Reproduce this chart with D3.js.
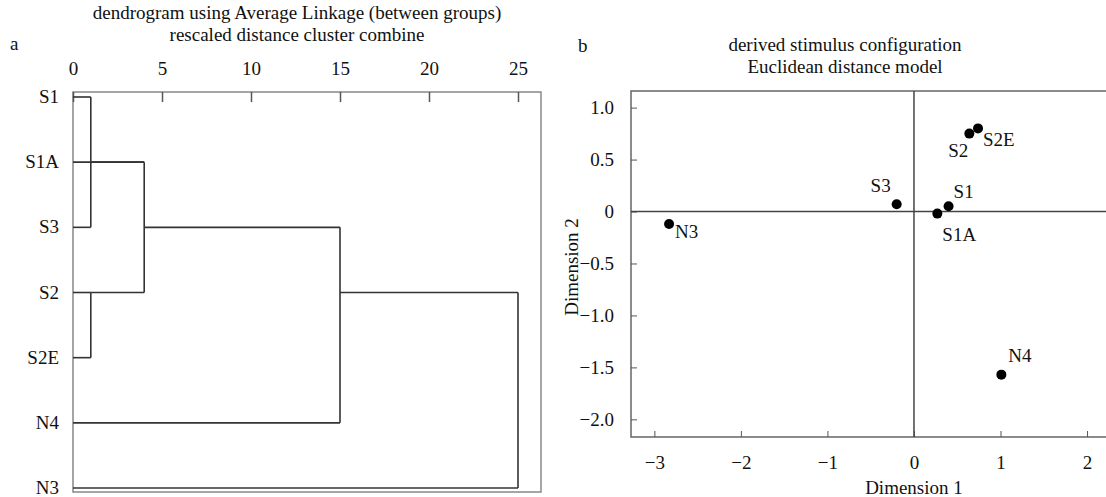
<!DOCTYPE html>
<html>
<head>
<meta charset="utf-8">
<script src="https://cdn.jsdelivr.net/npm/d3@7"></script>
<style>
  body { margin: 0; background: #fff; }
  svg text { font-family: "Liberation Serif", "Times New Roman", serif; fill: #111; }
  .axis path, .axis line { stroke: #555; }
</style>
</head>
<body>
<div id="chart"></div>
<script>
// ---- panel a : dendrogram (rows top to bottom) ----
const leafNames = ["S1", "S1A", "S3", "S2", "S2E", "N4", "N3"]
const leafJoin = [1, 4, 1, 1, 1, 15, 25]      // distance where each leaf line stops
const mergeDist = [1, 1, 4, 15, 25]           // rescaled distance of each merge
const mergeTop = [0, 3, 1, 2, 3]              // first row of the vertical bar
const mergeBottom = [2, 4, 3, 5, 6]           // last row of the vertical bar
const mergeRow = [1, 3, 2, 3, -1]             // row the new cluster continues on
const mergeNext = [2, 2, 3, 4, -1]            // merge that the new cluster enters
const distTicks = [0, 5, 10, 15, 20, 25]

// ---- panel b : stimulus configuration ----
const stimNames = ["S1", "S1A", "S3", "S2", "S2E", "N4", "N3"]
const dim1 = [0.40, 0.27, -0.20, 0.64, 0.74, 1.01, -2.83]
const dim2 = [0.05, -0.02, 0.07, 0.75, 0.80, -1.57, -0.12]
const dim1Ticks = [-3, -2, -1, 0, 1, 2]
const dim2Ticks = [1.0, 0.5, 0, -0.5, -1.0, -1.5, -2.0]

const W = 1106, H = 497
const FS = "19px"
const svg = d3.select("#chart").append("svg")
    .attr("width", W)
    .attr("height", H)

// ================= panel a =================
const boxA = {left: 73, right: 541, top: 92, bottom: 492}
const xA = d3.scaleLinear().domain([0, 25]).range([73, 518])
const yA = d3.scalePoint().domain(d3.range(leafNames.length)).range([97, 488])

svg.append("text").attr("x", 10).attr("y", 50).attr("font-size", FS).text("a")
svg.append("text").attr("x", 297).attr("y", 19).attr("text-anchor", "middle")
    .attr("font-size", FS).text("dendrogram using Average Linkage (between groups)")
svg.append("text").attr("x", 297).attr("y", 41).attr("text-anchor", "middle")
    .attr("font-size", FS).text("rescaled distance cluster combine")

svg.append("rect")
    .attr("x", boxA.left).attr("y", boxA.top)
    .attr("width", boxA.right - boxA.left).attr("height", boxA.bottom - boxA.top)
    .attr("fill", "none").attr("stroke", "#888").attr("stroke-width", 1.5)

svg.append("g")
    .attr("class", "axis")
    .attr("transform", "translate(0," + boxA.top + ")")
    .call(d3.axisTop(xA).tickValues(distTicks).tickSizeInner(-10).tickSizeOuter(0).tickPadding(17))
    .call(g => g.select(".domain").remove())
    .call(g => g.selectAll("text").attr("font-size", FS).attr("font-family", null))
    .call(g => g.selectAll(".tick line").attr("stroke-width", 1.5))

// leaf labels
svg.selectAll(".leaf")
    .data(leafNames)
    .enter().append("text")
    .attr("class", "leaf")
    .attr("x", 59)
    .attr("y", (d, i) => yA(i) + 6)
    .attr("text-anchor", "end")
    .attr("font-size", FS)
    .text(d => d)

const dendro = svg.append("g")
    .attr("stroke", "#333")
    .attr("stroke-width", 1.6)
    .attr("fill", "none")

// leaf lines
dendro.selectAll(".leafline")
    .data(leafJoin)
    .enter().append("line")
    .attr("x1", xA(0))
    .attr("x2", d => xA(d))
    .attr("y1", (d, i) => yA(i))
    .attr("y2", (d, i) => yA(i))

// vertical bars of each merge
dendro.selectAll(".bar")
    .data(mergeDist)
    .enter().append("line")
    .attr("x1", d => xA(d))
    .attr("x2", d => xA(d))
    .attr("y1", (d, i) => yA(mergeTop[i]))
    .attr("y2", (d, i) => yA(mergeBottom[i]))

// cluster lines running on to the next merge
dendro.selectAll(".link")
    .data(mergeDist.filter((d, i) => mergeNext[i] >= 0))
    .enter().append("line")
    .attr("x1", d => xA(d))
    .attr("x2", (d, i) => xA(mergeDist[mergeNext[i]]))
    .attr("y1", (d, i) => yA(mergeRow[i]))
    .attr("y2", (d, i) => yA(mergeRow[i]))

// ================= panel b =================
const boxB = {left: 631, right: 1113, top: 91, bottom: 437}
const xB = d3.scaleLinear().domain([-3.27, 2.3]).range([boxB.left, boxB.right])
const yB = d3.scaleLinear().domain([-2.17, 1.16]).range([boxB.bottom, boxB.top])

svg.append("text").attr("x", 578).attr("y", 52).attr("font-size", FS).text("b")
svg.append("text").attr("x", 845).attr("y", 51).attr("text-anchor", "middle")
    .attr("font-size", FS).text("derived stimulus configuration")
svg.append("text").attr("x", 845).attr("y", 73).attr("text-anchor", "middle")
    .attr("font-size", FS).text("Euclidean distance model")

svg.append("rect")
    .attr("x", boxB.left).attr("y", boxB.top)
    .attr("width", boxB.right - boxB.left).attr("height", boxB.bottom - boxB.top)
    .attr("fill", "none").attr("stroke", "#666").attr("stroke-width", 1.5)

const fmtY = d => d === 0 ? "0" : d3.format(".1f")(d)

svg.append("g")
    .attr("class", "axis")
    .attr("transform", "translate(" + boxB.left + ",0)")
    .call(d3.axisLeft(yB).tickValues(dim2Ticks).tickFormat(fmtY).tickSizeInner(-6).tickSizeOuter(0).tickPadding(17))
    .call(g => g.select(".domain").remove())
    .call(g => g.selectAll("text").attr("font-size", FS).attr("font-family", null))

svg.append("g")
    .attr("class", "axis")
    .attr("transform", "translate(0," + boxB.bottom + ")")
    .call(d3.axisBottom(xB).tickValues(dim1Ticks).tickFormat(d3.format("d")).tickSizeInner(-6).tickSizeOuter(0).tickPadding(19))
    .call(g => g.select(".domain").remove())
    .call(g => g.selectAll("text").attr("font-size", FS).attr("font-family", null))

// zero reference lines
svg.append("line")
    .attr("x1", boxB.left).attr("x2", boxB.right)
    .attr("y1", yB(0)).attr("y2", yB(0))
    .attr("stroke", "#444").attr("stroke-width", 1.5)
svg.append("line")
    .attr("x1", xB(0)).attr("x2", xB(0))
    .attr("y1", boxB.top).attr("y2", boxB.bottom)
    .attr("stroke", "#444").attr("stroke-width", 1.5)

svg.append("text")
    .attr("x", xB(0)).attr("y", 494)
    .attr("text-anchor", "middle").attr("font-size", FS)
    .text("Dimension 1")
svg.append("text")
    .attr("transform", "translate(578,267) rotate(-90)")
    .attr("text-anchor", "middle").attr("font-size", FS)
    .text("Dimension 2")

// label placement around each dot (pixels)
const labelPos = {
    "S1":  {dx: 5,  dy: -8,  anchor: "start"},
    "S1A": {dx: 5,  dy: 27,  anchor: "start"},
    "S3":  {dx: -6, dy: -12, anchor: "end"},
    "S2":  {dx: -1, dy: 23,  anchor: "end"},
    "S2E": {dx: 5,  dy: 18,  anchor: "start"},
    "N4":  {dx: 7,  dy: -13, anchor: "start"},
    "N3":  {dx: 6,  dy: 14,  anchor: "start"}
}

const pts = svg.selectAll(".pt")
    .data(stimNames)
    .enter().append("g")
    .attr("class", "pt")
    .attr("transform", (d, i) => "translate(" + xB(dim1[i]) + "," + yB(dim2[i]) + ")")

pts.append("circle").attr("r", 5).attr("fill", "#000")
pts.append("text")
    .attr("x", d => labelPos[d].dx)
    .attr("y", d => labelPos[d].dy)
    .attr("text-anchor", d => labelPos[d].anchor)
    .attr("font-size", FS)
    .text(d => d)
</script>
</body>
</html>
